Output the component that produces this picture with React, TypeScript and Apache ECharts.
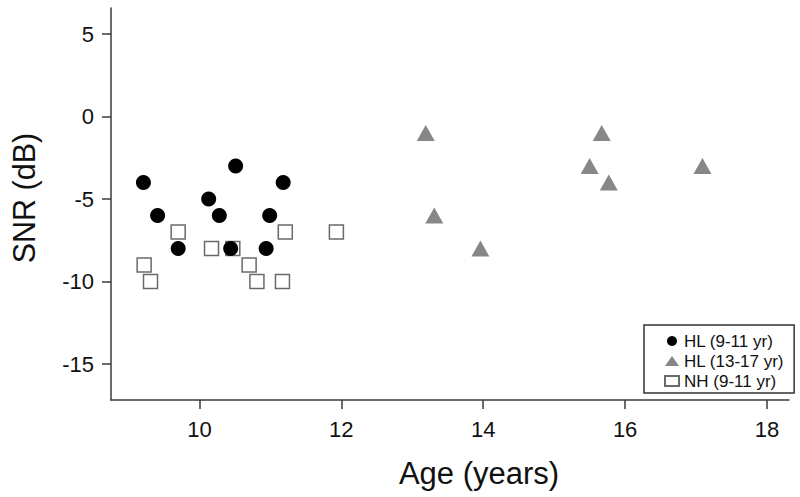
import React, { useEffect, useRef } from "react";
import * as echarts from "echarts";

const seriesNames = ["HL (9-11 yr)", "HL (13-17 yr)", "NH (9-11 yr)"];

const ageHL911 = [9.21, 9.41, 9.7, 10.13, 10.28, 10.44, 10.51, 10.94, 10.99, 11.18];
const snrHL911 = [-4, -6, -8, -5, -6, -8, -3, -8, -6, -4];

const ageHL1317 = [13.19, 13.31, 13.96, 15.5, 15.67, 15.77, 17.09];
const snrHL1317 = [-1, -6, -8, -3, -1, -4, -3];

const ageNH911 = [9.22, 9.31, 9.7, 10.17, 10.47, 10.7, 10.81, 11.17, 11.21, 11.93];
const snrNH911 = [-9, -10, -7, -8, -8, -9, -10, -10, -7, -7];

const xTicks = [10, 12, 14, 16, 18];
const yTicks = [-15, -10, -5, 0, 5];

const FONT = "'Liberation Sans', Arial, Helvetica, sans-serif";

function zip(xs: number[], ys: number[]) {
  return xs.map((x, i) => [x, ys[i]]);
}

export default function App() {
  const ref = useRef<HTMLDivElement>(null);

  useEffect(() => {
    if (!ref.current) return;
    const chart = echarts.init(ref.current, undefined, { renderer: "svg" });
    const axisColor = "#3a3a3a";
    chart.setOption({
      animation: false,
      backgroundColor: "#ffffff",
      textStyle: { fontFamily: FONT },
      grid: { left: 109, top: 8, right: 11, bottom: 97, containLabel: false },
      xAxis: {
        type: "value",
        min: 8.753,
        max: 18.31,
        name: "Age (years)",
        nameLocation: "middle",
        nameGap: 58,
        nameTextStyle: { fontSize: 31, color: "#111", fontFamily: FONT, padding: [0, 0, 0, 58] },
        axisLine: { show: true, onZero: false, lineStyle: { color: axisColor, width: 1.5 } },
        axisTick: { show: true, inside: false, length: 9, customValues: xTicks, lineStyle: { color: axisColor, width: 1.5 } },
        axisLabel: { customValues: xTicks, fontSize: 22, color: "#111", margin: 18, fontFamily: FONT },
        splitLine: { show: false },
      },
      yAxis: {
        type: "value",
        min: -17.18,
        max: 6.58,
        name: "SNR (dB)",
        nameLocation: "middle",
        nameGap: 72,
        nameRotate: 90,
        nameTextStyle: { fontSize: 30.5, color: "#111", fontFamily: FONT, padding: [0, 0, 0, 12] },
        axisLine: { show: true, onZero: false, lineStyle: { color: axisColor, width: 1.5 } },
        axisTick: { show: true, inside: false, length: 9, customValues: yTicks, lineStyle: { color: axisColor, width: 1.5 } },
        axisLabel: { customValues: yTicks, fontSize: 22, color: "#111", margin: 17, fontFamily: FONT },
        splitLine: { show: false },
      },
      legend: {
        orient: "vertical",
        left: 644,
        top: 325,
        padding: [6, 10, 2, 20],
        itemGap: 0,
        itemWidth: 14,
        itemHeight: 10,
        borderColor: "#333",
        borderWidth: 1.5,
        backgroundColor: "#fff",
        textStyle: { fontSize: 17, color: "#111", lineHeight: 20, fontFamily: FONT },
        data: seriesNames,
      },
      series: [
        {
          name: seriesNames[0],
          type: "scatter",
          symbol: "circle",
          symbolSize: 15,
          itemStyle: { color: "#000000", opacity: 1 },
          data: zip(ageHL911, snrHL911),
          z: 5,
        },
        {
          name: seriesNames[1],
          type: "scatter",
          symbol: "triangle",
          symbolSize: [18, 16],
          itemStyle: { color: "#878787", opacity: 1 },
          data: zip(ageHL1317, snrHL1317),
          z: 3,
        },
        {
          name: seriesNames[2],
          type: "scatter",
          symbol: "rect",
          symbolSize: 14,
          itemStyle: { color: "#ffffff", borderColor: "#6a6a6a", borderWidth: 1.5, opacity: 1 },
          data: zip(ageNH911, snrNH911),
          z: 4,
        },
      ],
    });
    return () => chart.dispose();
  }, []);

  return (
    <div
      ref={ref}
      style={{ position: "fixed", left: 0, top: 0, width: 800, height: 497, background: "#fff" }}
    />
  );
}
